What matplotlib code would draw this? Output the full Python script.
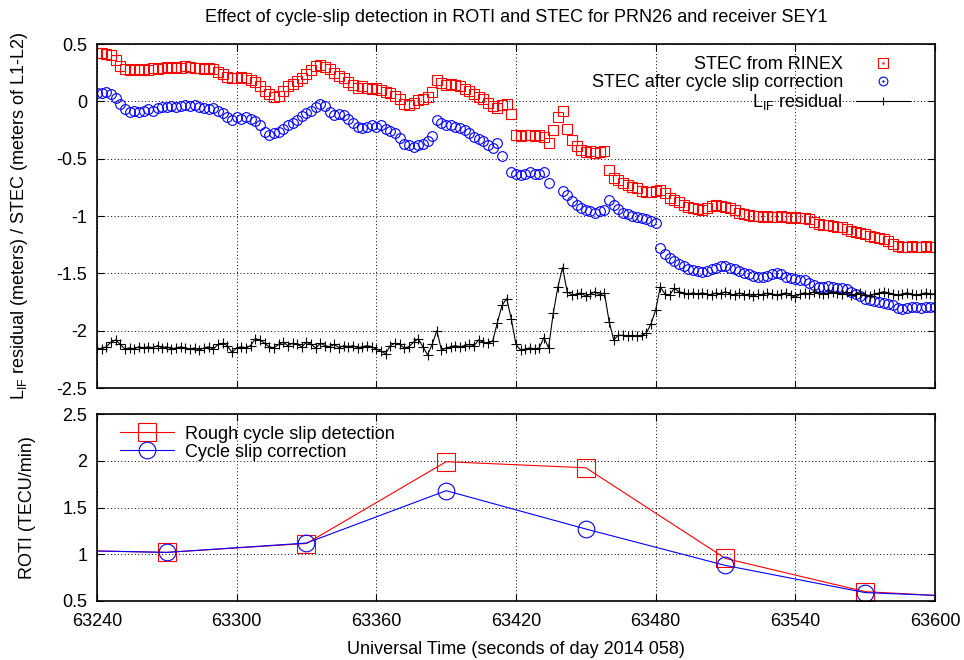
import numpy as np
import matplotlib
matplotlib.use("Agg")
import matplotlib.pyplot as plt
from matplotlib.ticker import FormatStrFormatter
from matplotlib.legend_handler import HandlerTuple

plt.rcParams['font.family'] = ['Liberation Sans', 'DejaVu Sans']
plt.rcParams['mathtext.fontset'] = 'custom'
plt.rcParams['mathtext.rm'] = 'Liberation Sans'
plt.rcParams['mathtext.it'] = 'Liberation Sans:italic'
plt.rcParams['axes.unicode_minus'] = False
plt.rcParams['font.size'] = 13


# ------------------ DATA (2 s sampling) ------------------ #

t_stec = np.arange(63240, 63601, 2)

stec_rinex = [
    0.42, 0.42, 0.41, 0.40, 0.36, 0.31, 0.28, 0.27, 0.28, 0.27,
    0.28, 0.27, 0.29, 0.28, 0.29, 0.30, 0.29, 0.30, 0.29, 0.31,
    0.30, 0.29, 0.29, 0.28, 0.29, 0.28, 0.26, 0.24, 0.21, 0.20,
    0.20, 0.21, 0.20, 0.19, 0.17, 0.13, 0.09, 0.06, 0.04, 0.05,
    0.09, 0.13, 0.15, 0.18, 0.20, 0.24, 0.27, 0.31, 0.32, 0.30,
    0.28, 0.25, 0.22, 0.20, 0.17, 0.14, 0.12, 0.13, 0.12, 0.11,
    0.12, 0.10, 0.08, 0.07, 0.05, 0.02, -0.02, -0.03, -0.01, 0.01,
    0.02, 0.04, 0.08, 0.19, 0.16, 0.14, 0.15, 0.14, 0.13, 0.11,
    0.09, 0.06, 0.04, 0.02, -0.01, -0.04, -0.06, -0.03, -0.02, -0.11,
    -0.29, -0.30, -0.29, -0.29, -0.30, -0.29, -0.31, -0.36, -0.25, -0.14,
    -0.08, -0.24, -0.34, -0.39, -0.42, -0.44, -0.43, -0.45, -0.44, -0.43,
    -0.60, -0.67, -0.69, -0.71, -0.73, -0.75, -0.76, -0.78, -0.79, -0.79,
    -0.78, -0.77, -0.80, -0.84, -0.86, -0.88, -0.90, -0.92, -0.93, -0.94,
    -0.95, -0.93, -0.91, -0.90, -0.91, -0.92, -0.93, -0.95, -0.97, -0.98,
    -0.99, -1.00, -1.00, -1.01, -1.00, -1.01, -1.01, -1.00, -1.01, -1.02,
    -1.01, -1.02, -1.02, -1.03, -1.05, -1.07, -1.08, -1.08, -1.09, -1.10,
    -1.10, -1.11, -1.13, -1.14, -1.15, -1.16, -1.17, -1.18, -1.19, -1.20,
    -1.22, -1.24, -1.26, -1.27, -1.27, -1.26, -1.27, -1.27, -1.26, -1.27,
    -1.27,
]

nan = np.nan
stec_corrected = [
    0.07, 0.07, 0.08, 0.06, 0.03, -0.02, -0.07, -0.09, -0.08, -0.09,
    -0.08, -0.07, -0.08, -0.06, -0.05, -0.05, -0.04, -0.05, -0.04, -0.03,
    -0.04, -0.03, -0.05, -0.06, -0.07, -0.06, -0.08, -0.10, -0.14, -0.16,
    -0.14, -0.15, -0.14, -0.15, -0.17, -0.21, -0.27, -0.29, -0.28, -0.27,
    -0.24, -0.21, -0.19, -0.16, -0.13, -0.10, -0.08, -0.05, -0.02, -0.04,
    -0.09, -0.12, -0.11, -0.12, -0.15, -0.19, -0.22, -0.23, -0.22, -0.21,
    -0.22, -0.21, -0.24, -0.26, -0.28, -0.32, -0.37, -0.38, -0.40, -0.38,
    -0.37, -0.35, -0.30, -0.16, -0.19, -0.21, -0.21, -0.22, -0.23, -0.25,
    -0.28, -0.31, -0.33, -0.35, -0.38, -0.41, -0.36, -0.48, nan, -0.62,
    -0.63, -0.64, -0.63, -0.62, -0.63, -0.63, -0.62, -0.71, nan, nan,
    -0.78, -0.82, -0.87, -0.90, -0.93, -0.95, -0.96, -0.97, -0.96, -0.95,
    -0.86, -0.90, -0.94, -0.97, -0.98, -1.00, -1.01, -1.02, -1.03, -1.04,
    -1.06, -1.28, -1.33, -1.37, -1.39, -1.42, -1.44, -1.46, -1.47, -1.48,
    -1.49, -1.48, -1.46, -1.45, -1.44, -1.44, -1.45, -1.46, -1.48, -1.50,
    -1.51, -1.52, -1.53, -1.53, -1.52, -1.51, -1.50, -1.51, -1.53, -1.54,
    -1.55, -1.56, -1.56, -1.58, -1.60, -1.62, -1.62, -1.61, -1.62, -1.63,
    -1.63, -1.64, -1.66, -1.68, -1.70, -1.72, -1.73, -1.74, -1.75, -1.76,
    -1.77, -1.78, -1.80, -1.81, -1.80, -1.79, -1.79, -1.80, -1.79, -1.79,
    -1.79,
]

lif_residual = [
    -2.15, -2.16, -2.14, -2.10, -2.08, -2.12, -2.16, -2.15, -2.16, -2.14,
    -2.15, -2.14, -2.15, -2.13, -2.15, -2.14, -2.16, -2.15, -2.14, -2.15,
    -2.16, -2.15, -2.17, -2.15, -2.14, -2.16, -2.12, -2.11, -2.13, -2.19,
    -2.15, -2.14, -2.15, -2.13, -2.07, -2.08, -2.11, -2.14, -2.15, -2.12,
    -2.10, -2.13, -2.11, -2.12, -2.14, -2.10, -2.12, -2.15, -2.11, -2.13,
    -2.14, -2.12, -2.15, -2.13, -2.14, -2.13, -2.15, -2.14, -2.13, -2.14,
    -2.16, -2.18, -2.20, -2.13, -2.11, -2.12, -2.15, -2.14, -2.10, -2.07,
    -2.14, -2.21, -2.12, -2.00, -2.17, -2.15, -2.14, -2.13, -2.14, -2.13,
    -2.12, -2.13, -2.08, -2.10, -2.11, -2.09, -1.93, -1.78, -1.72, -1.90,
    -2.12, -2.17, -2.16, -2.15, -2.16, -2.15, -2.06, -2.15, -1.85, -1.62,
    -1.45, -1.66, -1.69, -1.68, -1.67, -1.70, -1.68, -1.66, -1.69, -1.67,
    -1.92, -2.08, -2.04, -2.04, -2.05, -2.04, -2.05, -2.04, -2.02, -1.94,
    -1.82, -1.62, -1.68, -1.69, -1.63, -1.66, -1.67, -1.68, -1.67, -1.68,
    -1.67, -1.68, -1.69, -1.67, -1.68, -1.66, -1.68, -1.69, -1.67, -1.69,
    -1.68, -1.70, -1.68, -1.69, -1.67, -1.68, -1.69, -1.68, -1.67, -1.69,
    -1.71, -1.68, -1.67, -1.68, -1.66, -1.67, -1.68, -1.67, -1.66, -1.67,
    -1.68, -1.66, -1.69, -1.68, -1.67, -1.69, -1.70, -1.68, -1.67, -1.66,
    -1.67, -1.68, -1.69, -1.68, -1.67, -1.68, -1.69, -1.68, -1.67, -1.68,
    -1.68,
]

# ROTI, one value per minute (first and last fall just outside the plotted range)
t_roti = [63210, 63270, 63330, 63390, 63450, 63510, 63570, 63630]
roti_rough = [1.05, 1.02, 1.115, 1.99, 1.925, 0.955, 0.60, 0.52]
roti_corrected = [1.05, 1.02, 1.12, 1.68, 1.27, 0.88, 0.59, 0.53]

xticks = [63240, 63300, 63360, 63420, 63480, 63540, 63600]


# ------------------------------ PLOTTING ------------------------------ #

fig = plt.figure(figsize=(9.64, 6.6), dpi=100)
ax1 = fig.add_axes([0.1006, 0.4121, 0.8693, 0.5212])
ax2 = fig.add_axes([0.1006, 0.0894, 0.8693, 0.2833])

grid_style = dict(color='black', linestyle=(0, (1, 2.5)), linewidth=0.7)

# top panel
sq, = ax1.plot(t_stec, stec_rinex, ls='none', marker='s', ms=7.5, mfc='none', mec='red', mew=0.8)
ci, = ax1.plot(t_stec, stec_corrected, ls='none', marker='o', ms=7, mfc='none', mec='blue', mew=0.8)
lif, = ax1.plot(t_stec, lif_residual, color='black', lw=0.8, marker='+', ms=7, mew=0.8)

# small centre dots shown in the key symbols (gnuplot style)
sq_dot, = ax1.plot([], [], ls='none', marker='.', ms=1.5, color='red')
ci_dot, = ax1.plot([], [], ls='none', marker='.', ms=1.5, color='blue')

ax1.set_xlim(63240, 63600)
ax1.set_ylim(-2.5, 0.5)
ax1.set_xticks(xticks)
ax1.set_yticks([-2.5, -2, -1.5, -1, -0.5, 0, 0.5])
ax1.yaxis.set_major_formatter(FormatStrFormatter('%g'))
ax1.tick_params(direction='in', top=True, right=True, length=5, width=0.8,
                labelbottom=False, pad=7)
ax1.grid(True, **grid_style)
ax1.set_ylabel(r'L$_{\mathrm{IF}}$ residual (meters) / STEC (meters of L1-L2)')
ax1.yaxis.set_label_coords(-0.080, 0.5)

ax1.legend([(sq, sq_dot), (ci, ci_dot), lif],
           ['STEC from RINEX', 'STEC after cycle slip correction', r'L$_{\mathrm{IF}}$ residual'],
           handler_map={tuple: HandlerTuple(ndivide=1)},
           markerfirst=False, frameon=False, loc='upper right',
           bbox_to_anchor=(0.970, 0.964), borderaxespad=0, borderpad=0,
           handlelength=3, handletextpad=0.7, labelspacing=0.05, numpoints=1,
           markerscale=0.9)

# bottom panel
ax2.plot(t_roti, roti_rough, color='red', lw=0.8, marker='s', ms=12.7, mfc='none', mew=0.8,
         label='Rough cycle slip detection')
ax2.plot(t_roti, roti_corrected, color='blue', lw=0.8, marker='o', ms=12, mfc='none', mew=0.8,
         label='Cycle slip correction')

ax2.set_xlim(63240, 63600)
ax2.set_ylim(0.5, 2.5)
ax2.set_xticks(xticks)
ax2.set_yticks([0.5, 1, 1.5, 2, 2.5])
ax2.yaxis.set_major_formatter(FormatStrFormatter('%g'))
ax2.tick_params(direction='in', top=True, right=True, length=5, width=0.8, pad=7)
ax2.tick_params(axis='x', pad=9)
ax2.grid(True, **grid_style)
ax2.set_ylabel('ROTI (TECU/min)')
ax2.yaxis.set_label_coords(-0.073, 0.5)
ax2.set_xlabel('Universal Time (seconds of day 2014 058)')
ax2.xaxis.set_label_coords(0.5, -0.216)

ax2.legend(loc='upper left', frameon=False, bbox_to_anchor=(0.0274, 0.938),
           borderaxespad=0, borderpad=0, handlelength=3, handletextpad=0.6,
           labelspacing=0.05, numpoints=1)

for ax in (ax1, ax2):
    for s in ax.spines.values():
        s.set_linewidth(1.2)

fig.text(516 / 964, 1 - 17 / 660, 'Effect of cycle-slip detection in ROTI and STEC for PRN26 and receiver SEY1',
         ha='center', va='center')

fig.savefig('out.png', dpi=100)
